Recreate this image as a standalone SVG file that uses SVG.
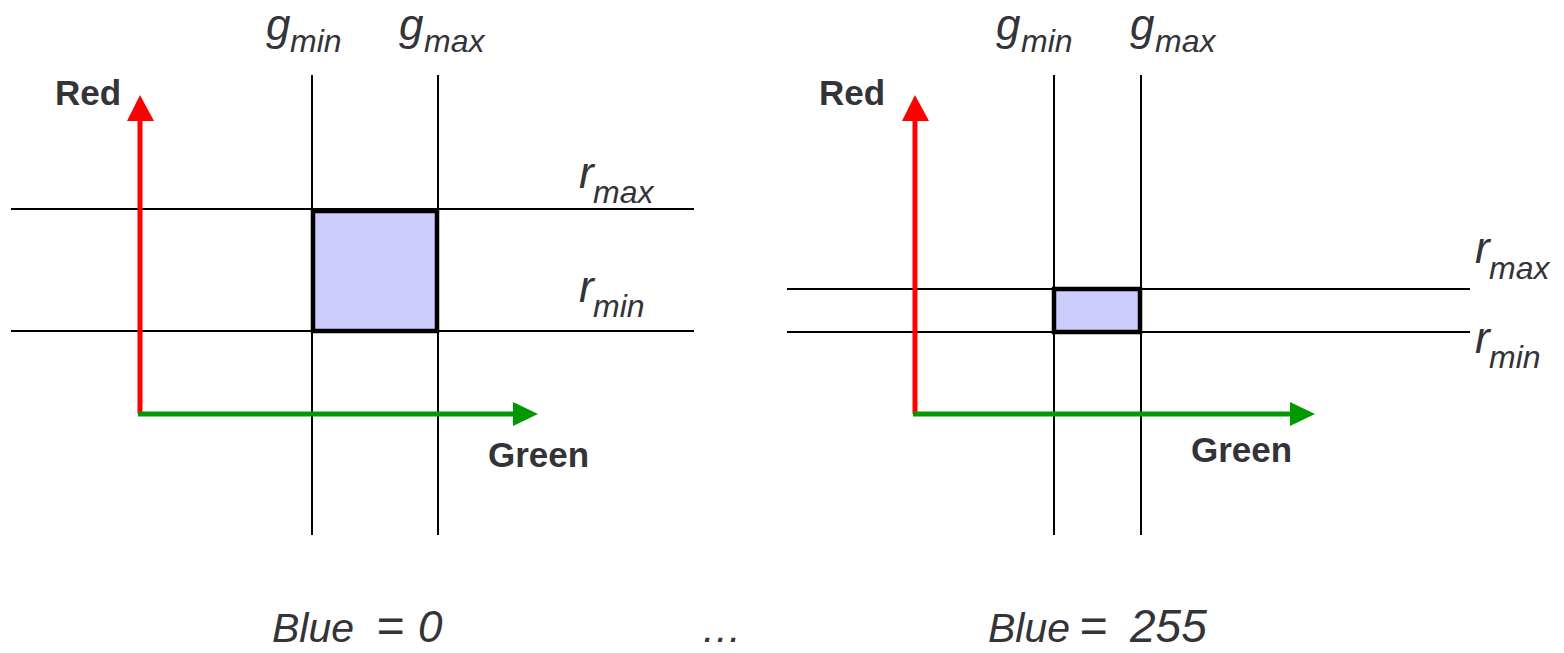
<svg xmlns="http://www.w3.org/2000/svg" width="1564" height="653" viewBox="0 0 1564 653">
<style>
  .grid{stroke:#000;stroke-width:2;fill:none}
  .box{fill:#ccccff;stroke:#000;stroke-width:4.5}
  .red{stroke:#ff0000;stroke-width:5;fill:none}
  .green{stroke:#009900;stroke-width:5;fill:none}
  .ax{font-family:"Liberation Sans",Arial,sans-serif;font-weight:bold;font-size:35px;fill:#333338}
  .it{font-family:"Liberation Sans",Arial,sans-serif;font-style:italic;fill:#333338}
  .big{font-size:44px}
  .sub{font-size:32px}
  .bot{font-size:41px}
</style>
<defs>
  <marker id="ahr" markerUnits="userSpaceOnUse" markerWidth="26" markerHeight="27" refX="0" refY="13" orient="auto" viewBox="0 0 26 27">
    <path d="M0,0 L26,13 L0,27 Z" fill="#ff0000"/>
  </marker>
  <marker id="ahg" markerUnits="userSpaceOnUse" markerWidth="25" markerHeight="24" refX="0" refY="12" orient="auto" viewBox="0 0 25 24">
    <path d="M0,0 L25,12 L0,24 Z" fill="#009900"/>
  </marker>
</defs>

<g id="panel-left">
  <g id="left-grid">
    <line class="grid" x1="312" y1="75" x2="312" y2="535"/>
    <line class="grid" x1="438" y1="75" x2="438" y2="535"/>
    <line class="grid" x1="11" y1="209" x2="694" y2="209"/>
    <line class="grid" x1="11" y1="331" x2="694" y2="331"/>
  </g>
  <rect id="left-box" class="box" x="313" y="211" width="124" height="120"/>
  <g id="left-labels">
    <text class="it" x="266" y="40"><tspan class="big">g</tspan><tspan class="sub" x="290" y="52">min</tspan></text>
    <text class="it" x="399" y="40"><tspan class="big">g</tspan><tspan class="sub" x="424" y="52">max</tspan></text>
    <text class="it" x="579" y="188"><tspan class="big">r</tspan><tspan class="sub" x="593" y="203">max</tspan></text>
    <text class="it" x="579" y="302"><tspan class="big">r</tspan><tspan class="sub" x="593" y="317">min</tspan></text>
    <text class="ax" x="55" y="105">Red</text>
    <text class="ax" x="488" y="467">Green</text>
  </g>
</g>

<g id="panel-right">
  <g id="right-grid">
    <line class="grid" x1="1054" y1="75" x2="1054" y2="535"/>
    <line class="grid" x1="1141" y1="75" x2="1141" y2="535"/>
    <line class="grid" x1="787" y1="289" x2="1470" y2="289"/>
    <line class="grid" x1="787" y1="332" x2="1470" y2="332"/>
  </g>
  <rect id="right-box" class="box" x="1054" y="289" width="86" height="43"/>
  <g id="right-labels">
    <text class="it" x="996" y="40"><tspan class="big">g</tspan><tspan class="sub" x="1021" y="52">min</tspan></text>
    <text class="it" x="1130" y="40"><tspan class="big">g</tspan><tspan class="sub" x="1155" y="52">max</tspan></text>
    <text class="it" x="1475" y="263"><tspan class="big">r</tspan><tspan class="sub" x="1489" y="279">max</tspan></text>
    <text class="it" x="1475" y="353"><tspan class="big">r</tspan><tspan class="sub" x="1489" y="368">min</tspan></text>
    <text class="ax" x="819" y="105">Red</text>
    <text class="ax" x="1191" y="462">Green</text>
  </g>
</g>

<g id="connectors">
  <line class="red" x1="140" y1="414" x2="140" y2="121" marker-end="url(#ahr)"/>
  <line class="green" x1="138" y1="414" x2="513" y2="414" marker-end="url(#ahg)"/>
  <line class="red" x1="915" y1="414" x2="915" y2="121" marker-end="url(#ahr)"/>
  <line class="green" x1="913" y1="414" x2="1290" y2="414" marker-end="url(#ahg)"/>
</g>

<g id="captions">
  <text class="it bot" y="642"><tspan x="272">Blue</tspan><tspan x="376" font-size="48">=</tspan><tspan x="418" font-size="44">0</tspan></text>
  <text class="it bot" x="701" y="642">…</text>
  <text class="it bot" y="642"><tspan x="988">Blue</tspan><tspan x="1079" font-size="48">=</tspan><tspan x="1130" font-size="46">255</tspan></text>
</g>
</svg>
